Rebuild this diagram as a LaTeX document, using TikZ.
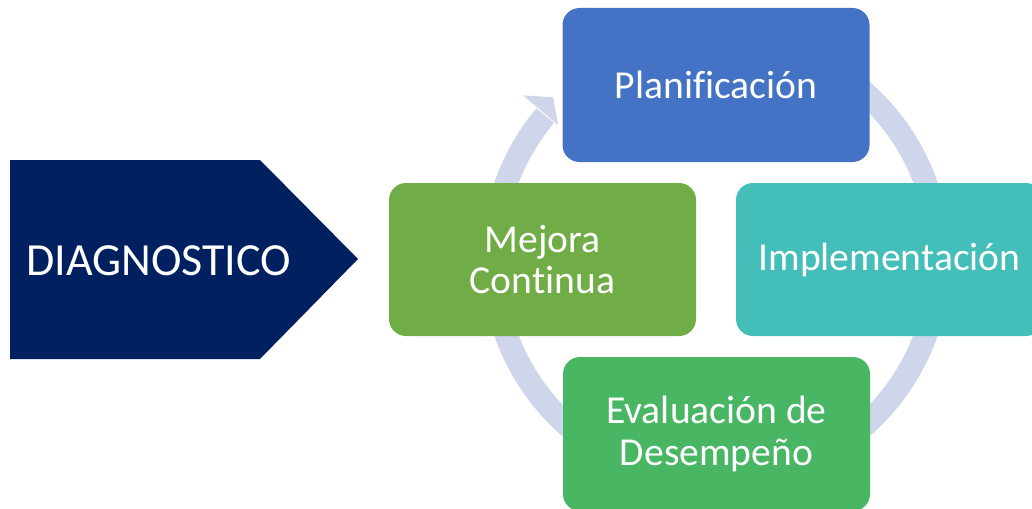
\documentclass[tikz,border=0pt]{standalone}
\usepackage{fontspec}
\usetikzlibrary{calc}
\setmainfont[Ligatures=NoCommon]{Carlito}
\definecolor{navy}{HTML}{002060}
\definecolor{cplan}{HTML}{4472C4}
\definecolor{cimpl}{HTML}{43BEB9}
\definecolor{ceval}{HTML}{48B663}
\definecolor{cmejo}{HTML}{70AD47}
\definecolor{cring}{HTML}{CFD5EA}
\tikzset{
  stagebox/.style={rounded corners=17pt, minimum width=307pt, minimum height=154pt,
    text=white, align=center, inner sep=0pt, font=\fontsize{39.6}{41.5}\selectfont},
}
\begin{document}
\begin{tikzpicture}[x=1pt,y=-1pt]
\useasboundingbox (0,0) rectangle (1032,508);
% cycle ring
\coordinate (c) at (716,259);
\draw[cring, line width=23pt] (c) ++(-100:223) arc[start angle=-100, end angle=220, radius=223];
\fill[cring] ($(c)+(-139.7:253)$) -- ($(c)+(-135.2:229.5)$) -- ($(c)+(-139.7:207)$) -- cycle;
% diagnostico arrow
\fill[navy] (10,160) -- (260,160) -- (358,259) -- (260,359) -- (10,359) -- cycle;
\node[text=white, anchor=base west, inner sep=0pt, font=\fontsize{46}{50}\selectfont] (diag) at (26,275) {DIAGNOSTICO};
% stages
\node[stagebox, fill=cplan] (plan) at (716,85) {Planificación};
\node[stagebox, fill=cimpl, minimum height=153pt] (impl) at (889.5,259.5) {Implementación};
\node[stagebox, fill=cmejo, minimum height=153pt] (mejo) at (542.5,259.5) {Mejora\\Continua};
\node[stagebox, fill=ceval] (eval) at (716.5,434) {Evaluación de\\Desempeño};
\end{tikzpicture}
\end{document}
